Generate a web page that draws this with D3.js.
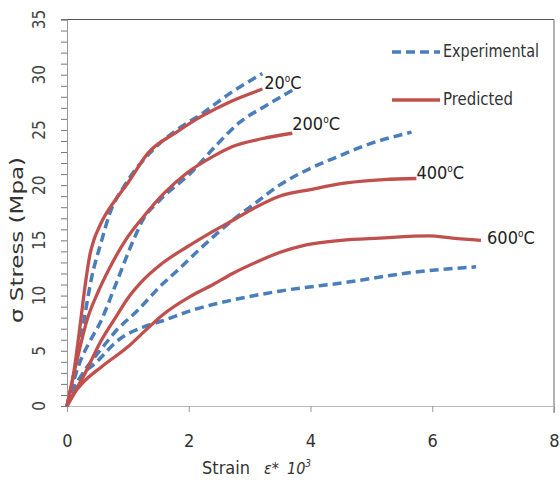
<!DOCTYPE html>
<html><head><meta charset="utf-8">
<script src="https://cdn.jsdelivr.net/npm/d3@7"></script>
<style>body{margin:0;background:#fff} svg{display:block}</style>
</head><body><svg id="c" width="560" height="484"></svg>
<script>
// ---- data (strain x10^3, stress MPa) ----
const exp20 = [[0,0],[0.12,3],[0.27,7.5],[0.4,11.5],[0.57,15],[0.7,17.4],[0.95,20],[1.36,22.9],[1.8,25],[2.2,26.4],[2.7,28.4],[3.21,30.1]];
const pred20 = [[0,0],[0.11,3],[0.22,7.5],[0.3,11],[0.38,13.8],[0.44,15],[0.52,16.1],[0.6,17],[0.8,18.7],[1.0,20.2],[1.33,22.9],[1.8,24.8],[2.2,26.2],[2.7,27.6],[3.21,28.7]];
const exp200 = [[0,0],[0.2,3.8],[0.35,5.6],[0.55,7.6],[0.8,11],[1.09,15],[1.25,16.9],[1.5,18.5],[2.07,21.3],[2.45,23.6],[2.84,25.7],[3.3,27.3],[3.7,28.6]];
const pred200 = [[0,0],[0.1,2.6],[0.2,5],[0.33,7.8],[0.5,10.2],[0.7,12.5],[0.96,15],[1.25,17.1],[1.6,19.3],[1.97,21.1],[2.4,22.6],[2.72,23.5],[3.2,24.2],[3.7,24.7]];
const exp400 = [[0,0],[0.14,1.8],[0.3,3.3],[0.54,5],[0.82,6.9],[1.15,8.6],[1.56,11],[1.8,12.2],[2.2,14.3],[2.67,16.6],[3.1,18.4],[3.49,20],[4.03,21.6],[4.5,22.7],[4.85,23.5],[5.66,24.8]];
const pred400 = [[0,0],[0.3,3],[0.54,5.7],[0.82,8.2],[0.98,9.6],[1.2,11.1],[1.56,12.9],[1.97,14.4],[2.3,15.5],[2.72,16.8],[3.1,18],[3.49,19],[4,19.6],[4.59,20.2],[5.2,20.5],[5.74,20.6]];
const exp600 = [[0,0],[0.08,1.2],[0.25,2.8],[0.47,3.9],[0.85,6],[1.28,7.2],[1.56,7.7],[2.07,8.7],[2.72,9.6],[3.49,10.4],[4.59,11.2],[5.67,12.1],[6.72,12.6]];
const pred600 = [[0,0],[0.1,1],[0.25,2.05],[0.57,3.56],[1.01,5.4],[1.28,6.8],[1.56,8.2],[2.02,9.9],[2.4,11],[2.72,12],[3.1,13],[3.49,13.9],[3.93,14.6],[4.5,15],[5.13,15.2],[5.95,15.4],[6.33,15.2],[6.8,15.0]];

const xTicks = [0,2,4,6,8];
const yTicks = [0,5,10,15,20,25,30,35];
const legendLabels = ["Experimental","Predicted"];
const tempNames = ["20","200","400","600"];
const tempLabelStrain = [3.24,3.7,5.74,6.9];
const tempLabelStress = [29.3,25.6,21.1,15.2];

const FONT = "'Liberation Sans Narrow','DejaVu Sans Condensed','Roboto Condensed',sans-serif";
const BLUE = "#4a7ebb", RED = "#c0504d";

const svg = d3.select("#c");
const x = d3.scaleLinear().domain([0,8]).range([67,554]);
const y = d3.scaleLinear().domain([0,35]).range([406,19.5]);

// frame: top and right
svg.append("line").attr("x1",61).attr("x2",554).attr("y1",y(35)).attr("y2",y(35)).attr("stroke","#555").attr("stroke-width",1);
svg.append("line").attr("x1",554).attr("x2",554).attr("y1",y(35)).attr("y2",413).attr("stroke","#666").attr("stroke-width",1);

// left axis (minor+major ticks)
const gy = svg.append("g").attr("transform","translate(67,0)")
  .call(d3.axisLeft(y).tickValues(d3.range(0,36,1)).tickSize(6).tickFormat(""));
gy.select(".domain").attr("stroke","#999");
gy.selectAll(".tick line").attr("stroke","#777");

// bottom axis
const gx = svg.append("g").attr("transform","translate(0,406)")
  .call(d3.axisBottom(x).tickValues(xTicks).tickSize(6).tickPadding(22).tickFormat(d3.format("d")));
gx.select(".domain").attr("stroke","#bbb");
gx.selectAll(".tick line").attr("stroke","#999");
gx.selectAll(".tick text").attr("font-family",FONT).attr("font-size",18).attr("fill","#333");

// y tick labels (rotated)
svg.append("g").selectAll("text").data(yTicks).join("text")
  .attr("transform",d=>`translate(39,${y(d)}) rotate(-90)`)
  .attr("text-anchor","middle").attr("dy","0.35em")
  .attr("font-family",FONT).attr("font-size",17).attr("fill","#444")
  .text(d=>d);

// axis titles
svg.append("text").attr("transform",`translate(17,${240}) rotate(-90)`)
  .attr("text-anchor","middle").attr("dy","0.35em")
  .attr("font-family",FONT).attr("font-size",18).attr("fill","#333")
  .attr("textLength",166).attr("lengthAdjust","spacingAndGlyphs")
  .text("σ   Stress  (Mpa)");

const xt = svg.append("text").attr("x",202).attr("y",474)
  .attr("font-family",FONT).attr("font-size",18).attr("fill","#333");
xt.append("tspan").text("Strain");
xt.append("tspan").attr("dx",14).attr("font-style","italic").attr("font-size",16).text("ε*");
xt.append("tspan").attr("dx",8).attr("font-style","italic").attr("font-size",16).text("10");
xt.append("tspan").attr("font-style","italic").attr("font-size",10).attr("dy",-7).text("3");

// series
const line = d3.line().x(d=>x(d[0])).y(d=>y(d[1])).curve(d3.curveMonotoneX);
const series = [
  {d:exp20,e:true},{d:exp200,e:true},{d:exp400,e:true},{d:exp600,e:true},
  {d:pred20,e:false},{d:pred200,e:false},{d:pred400,e:false},{d:pred600,e:false}
];
svg.append("g").selectAll("path").data(series).join("path")
  .attr("d",s=>line(s.d)).attr("fill","none")
  .attr("stroke",s=>s.e?BLUE:RED)
  .attr("stroke-width",s=>s.e?3.5:3.3)
  .attr("stroke-dasharray",s=>s.e?"9,5":null)
  .attr("stroke-linecap","butt").attr("stroke-linejoin","round");

// temperature labels
const tl = svg.append("g").selectAll("text").data(tempNames).join("text")
  .attr("x",(d,i)=>x(tempLabelStrain[i])).attr("y",(d,i)=>y(tempLabelStress[i]))
  .attr("dy","0.35em").attr("font-family",FONT).attr("font-size",18).attr("fill","#222");
tl.append("tspan").text(d=>d);
tl.append("tspan").attr("font-size",10).attr("dy",-7).text("o");
tl.append("tspan").attr("dy",7).text("C");

// legend
const lg = svg.append("g");
lg.append("line").attr("x1",392).attr("x2",440).attr("y1",52).attr("y2",52)
  .attr("stroke",BLUE).attr("stroke-width",3.5).attr("stroke-dasharray","9,5");
lg.append("line").attr("x1",392).attr("x2",440).attr("y1",100).attr("y2",100)
  .attr("stroke",RED).attr("stroke-width",3.5);
lg.selectAll("text").data(legendLabels).join("text")
  .attr("x",443).attr("y",(d,i)=>i===0?51:99).attr("dy","0.35em")
  .attr("font-family",FONT).attr("font-size",18).attr("fill","#333")
  .attr("textLength",(d,i)=>i===0?96:70).attr("lengthAdjust","spacingAndGlyphs")
  .text(d=>d);
</script></body></html>
